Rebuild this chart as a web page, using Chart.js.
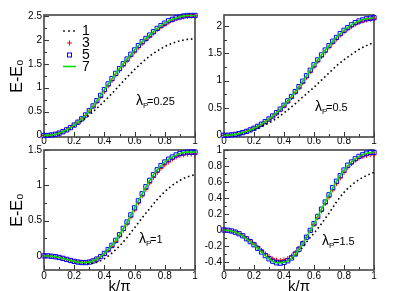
<!DOCTYPE html>
<html>
<head>
<meta charset="utf-8">
<script src="https://cdn.jsdelivr.net/npm/chart.js@4.4.0/dist/chart.umd.min.js"></script>
<style>
  body { margin: 0; background: #fff; }
  #wrap { position: relative; width: 411px; height: 291px; overflow: hidden; }
  #wrap canvas { position: absolute; }
</style>
</head>
<body>
<div id="wrap">
  <canvas id="c3" width="205" height="160" style="left:0;top:135px"></canvas>
  <canvas id="c4" width="206" height="160" style="left:205px;top:135px"></canvas>
  <canvas id="c1" width="205" height="160" style="left:0;top:0"></canvas>
  <canvas id="c2" width="206" height="160" style="left:205px;top:0"></canvas>
</div>
<script>
// k/pi grids: markers on the fine one, dotted + solid lines on the coarse one
var kFine = [0,0.025,0.05,0.075,0.1,0.125,0.15,0.175,0.2,0.225,0.25,0.275,0.3,0.325,0.35,0.375,0.4,0.425,0.45,0.475,0.5,0.525,0.55,0.575,0.6,0.625,0.65,0.675,0.7,0.725,0.75,0.775,0.8,0.825,0.85,0.875,0.9,0.925,0.95,0.975,1];
var kCoarse = [0,0.05,0.1,0.15,0.2,0.25,0.3,0.35,0.4,0.45,0.5,0.55,0.6,0.65,0.7,0.75,0.8,0.85,0.9,0.95,1];

var seriesLabels = ['1', '3', '5', '7'];
var xTicks = [0, 0.2, 0.4, 0.6, 0.8, 1];
var xMinor = [0.1, 0.3, 0.5, 0.7, 0.9];

// lambda_P = 0.25
var p1Dots = [0,0.012,0.05,0.11,0.2,0.3,0.43,0.57,0.72,0.88,1.05,1.22,1.38,1.53,1.66,1.77,1.86,1.93,1.98,2.01,2.02];
var p1Plus = [0,0.003,0.012,0.027,0.05,0.08,0.12,0.165,0.22,0.28,0.35,0.42,0.51,0.6,0.7,0.81,0.92,1.04,1.15,1.26,1.36,1.46,1.56,1.66,1.75,1.84,1.92,2.0,2.07,2.14,2.21,2.27,2.32,2.37,2.41,2.44,2.46,2.48,2.49,2.5,2.5];
var p1Squares = [0,0.003,0.012,0.027,0.05,0.08,0.12,0.165,0.22,0.28,0.35,0.43,0.52,0.62,0.73,0.84,0.96,1.08,1.19,1.3,1.4,1.5,1.6,1.7,1.79,1.88,1.96,2.03,2.1,2.17,2.24,2.3,2.35,2.4,2.43,2.46,2.48,2.5,2.51,2.51,2.51];
var p1Line = [0,0.012,0.05,0.12,0.22,0.35,0.52,0.73,0.96,1.19,1.4,1.6,1.79,1.96,2.1,2.24,2.35,2.43,2.48,2.51,2.51];
var p1YTicks = [0, 0.5, 1, 1.5, 2, 2.5];
var p1YMinor = [0.25, 0.75, 1.25, 1.75, 2.25];

// lambda_P = 0.5
var p2Dots = [0,0.006,0.025,0.055,0.1,0.16,0.23,0.31,0.41,0.52,0.64,0.76,0.88,1.01,1.14,1.27,1.38,1.48,1.57,1.64,1.7];
var p2Plus = [0,0.002,0.008,0.018,0.032,0.05,0.073,0.1,0.13,0.165,0.2,0.245,0.29,0.345,0.4,0.465,0.535,0.61,0.69,0.78,0.87,0.96,1.06,1.16,1.25,1.35,1.44,1.52,1.61,1.69,1.76,1.83,1.89,1.94,1.99,2.03,2.06,2.09,2.11,2.12,2.13];
var p2Squares = [0,0.002,0.008,0.018,0.032,0.05,0.073,0.1,0.13,0.165,0.205,0.25,0.3,0.355,0.415,0.48,0.55,0.63,0.71,0.8,0.89,0.99,1.09,1.19,1.29,1.38,1.47,1.56,1.64,1.72,1.79,1.86,1.92,1.97,2.02,2.06,2.09,2.11,2.13,2.14,2.15];
var p2Line = [0,0.008,0.032,0.073,0.13,0.205,0.3,0.415,0.55,0.71,0.89,1.09,1.29,1.47,1.64,1.79,1.92,2.02,2.09,2.13,2.15];
var p2YTicks = [0, 0.5, 1, 1.5, 2];
var p2YMinor = [0.25, 0.75, 1.25, 1.75];

// lambda_P = 1
var p3Dots = [0,-0.005,-0.022,-0.05,-0.08,-0.1,-0.11,-0.09,-0.04,0.04,0.14,0.26,0.4,0.54,0.67,0.8,0.91,1.0,1.07,1.12,1.15];
var p3Plus = [0,0,-0.005,-0.012,-0.022,-0.035,-0.05,-0.064,-0.076,-0.085,-0.09,-0.09,-0.083,-0.068,-0.044,-0.012,0.028,0.078,0.135,0.2,0.28,0.36,0.45,0.55,0.65,0.75,0.85,0.94,1.03,1.11,1.18,1.24,1.29,1.33,1.37,1.4,1.42,1.43,1.44,1.44,1.44];
var p3Squares = [0,0,-0.005,-0.012,-0.022,-0.035,-0.05,-0.065,-0.078,-0.088,-0.094,-0.095,-0.088,-0.072,-0.045,-0.01,0.035,0.09,0.15,0.22,0.3,0.39,0.48,0.58,0.68,0.78,0.88,0.98,1.07,1.15,1.22,1.28,1.33,1.37,1.4,1.43,1.45,1.46,1.47,1.47,1.47];
var p3Line = [0,-0.005,-0.022,-0.05,-0.078,-0.094,-0.088,-0.045,0.035,0.15,0.3,0.48,0.68,0.88,1.07,1.22,1.33,1.4,1.45,1.47,1.47];
var p3YTicks = [0, 0.5, 1, 1.5];
var p3YMinor = [0.25, 0.75, 1.25];

// lambda_P = 1.5
var p4Dots = [0,-0.012,-0.047,-0.11,-0.185,-0.27,-0.35,-0.4,-0.4,-0.36,-0.27,-0.15,-0.04,0.08,0.21,0.35,0.47,0.56,0.63,0.68,0.72];
var p4Plus = [0,-0.003,-0.012,-0.026,-0.045,-0.07,-0.105,-0.138,-0.175,-0.215,-0.255,-0.295,-0.33,-0.36,-0.375,-0.38,-0.372,-0.355,-0.325,-0.28,-0.225,-0.16,-0.09,-0.01,0.07,0.15,0.24,0.33,0.41,0.5,0.58,0.65,0.72,0.78,0.83,0.87,0.9,0.92,0.93,0.94,0.94];
var p4Squares = [0,-0.003,-0.012,-0.027,-0.047,-0.072,-0.11,-0.145,-0.185,-0.23,-0.275,-0.32,-0.36,-0.39,-0.41,-0.415,-0.405,-0.385,-0.35,-0.3,-0.24,-0.17,-0.09,-0.005,0.08,0.17,0.26,0.35,0.44,0.53,0.61,0.68,0.75,0.81,0.85,0.89,0.92,0.94,0.96,0.97,0.97];
var p4Line = [0,-0.012,-0.047,-0.11,-0.185,-0.275,-0.36,-0.41,-0.405,-0.35,-0.24,-0.09,0.08,0.26,0.44,0.61,0.75,0.85,0.92,0.96,0.97];
var p4YTicks = [-0.4, -0.2, 0, 0.2, 0.4, 0.6, 0.8, 1];
var p4YMinor = [-0.3, -0.1, 0.1, 0.3, 0.5, 0.7, 0.9];

var FONT = '"Liberation Sans", Arial, sans-serif';

var panels = [
  { id: 'c1', dots: p1Dots, plus: p1Plus, squares: p1Squares, line: p1Line,
    yMin: -0.03, yMax: 2.52, yTicks: p1YTicks, yMinor: p1YMinor, lam: '=0.25', lamX: 136, lamY: 101,
    yTitle: true, xTitle: false, legend: true, yw: 44, pr: 10, pt: 15, xh: 23, xpad: -2 },
  { id: 'c2', dots: p2Dots, plus: p2Plus, squares: p2Squares, line: p2Line,
    yMin: -0.03, yMax: 2.2, yTicks: p2YTicks, yMinor: p2YMinor, lam: '=0.5', lamX: 110, lamY: 107,
    yTitle: false, xTitle: false, legend: false, yw: 19, pr: 37, pt: 15, xh: 23, xpad: -2 },
  { id: 'c3', dots: p3Dots, plus: p3Plus, squares: p3Squares, line: p3Line,
    yMin: -0.2, yMax: 1.5, yTicks: p3YTicks, yMinor: p3YMinor, lam: '=1', lamX: 139, lamY: 104,
    yTitle: true, xTitle: true, legend: false, yw: 44, pr: 10, pt: 15, xh: 25, xpad: 0 },
  { id: 'c4', dots: p4Dots, plus: p4Plus, squares: p4Squares, line: p4Line,
    yMin: -0.5, yMax: 1, yTicks: p4YTicks, yMinor: p4YMinor, lam: '=1.5', lamX: 117, lamY: 106,
    yTitle: false, xTitle: true, legend: false, yw: 19, pr: 37, pt: 15, xh: 25, xpad: 0 }
];

function xy(ks, vs) {
  return ks.map(function (k, i) { return { x: k, y: vs[i] }; });
}

// frame, inward ticks, legend and the lambda label
function makeDeco(p) {
  return {
    id: 'deco-' + p.id,
    beforeDatasetsDraw: function (chart) {
      var a = chart.chartArea, ctx = chart.ctx, xs = chart.scales.x, ys = chart.scales.y;
      ctx.save();
      ctx.strokeStyle = '#333';
      ctx.lineWidth = 1;
      ctx.beginPath();
      function tx(v, len) {
        var px = Math.round(xs.getPixelForValue(v)) + 0.5;
        ctx.moveTo(px, a.bottom); ctx.lineTo(px, a.bottom - len);
      }
      function ty(v, len) {
        var py = Math.round(ys.getPixelForValue(v)) + 0.5;
        ctx.moveTo(a.left, py); ctx.lineTo(a.left + len, py);
      }
      xTicks.forEach(function (v) { tx(v, 5); });
      xMinor.forEach(function (v) { tx(v, 3); });
      p.yTicks.forEach(function (v) { ty(v, 5); });
      p.yMinor.forEach(function (v) { ty(v, 3); });
      ctx.stroke();
      ctx.strokeStyle = '#444';
      ctx.lineWidth = 1.6;
      ctx.strokeRect(a.left, a.top, a.right - a.left, a.bottom - a.top);
      ctx.restore();
    },
    afterDatasetsDraw: function (chart) {
      var ctx = chart.ctx;
      ctx.save();
      ctx.fillStyle = '#000';
      ctx.textBaseline = 'middle';
      // lambda_P label
      ctx.font = '14px ' + FONT;
      ctx.fillText('λ', p.lamX, p.lamY);
      var w = ctx.measureText('λ').width;
      ctx.font = '8px ' + FONT;
      ctx.fillText('P', p.lamX + w, p.lamY + 5);
      ctx.font = '11px ' + FONT;
      ctx.fillText(p.lam, p.lamX + w + 4, p.lamY + 1);

      if (p.legend) {
        var rows = [31, 43, 55, 66.5];
        var ds = chart.data.datasets;
        // 1: dotted
        ctx.fillStyle = '#000';
        [64, 69, 74].forEach(function (x) { ctx.fillRect(x - 0.8, rows[0] - 0.8, 1.6, 1.6); });
        // 3: red plus
        ctx.strokeStyle = ds[1].borderColor; ctx.lineWidth = 1;
        ctx.beginPath();
        ctx.moveTo(67, rows[1]); ctx.lineTo(72, rows[1]);
        ctx.moveTo(69.5, rows[1] - 2.5); ctx.lineTo(69.5, rows[1] + 2.5);
        ctx.stroke();
        // 5: blue square
        ctx.strokeStyle = ds[2].borderColor;
        ctx.strokeRect(67.5, rows[2] - 2, 4, 4);
        // 7: green line
        ctx.strokeStyle = ds[3].borderColor; ctx.lineWidth = 1.6;
        ctx.beginPath(); ctx.moveTo(63, rows[3]); ctx.lineTo(76, rows[3]); ctx.stroke();
        ctx.fillStyle = '#000';
        ctx.font = '14px ' + FONT;
        ds.forEach(function (d, i) { ctx.fillText(d.label, 82, rows[i] + 0.5); });
      }
      ctx.restore();
    }
  };
}

function makeChart(p) {
  var ctx = document.getElementById(p.id).getContext('2d');
  return new Chart(ctx, {
    type: 'scatter',
    data: {
      datasets: [
        { label: seriesLabels[0], data: xy(kCoarse, p.dots), showLine: true, borderColor: '#000',
          borderWidth: 1.6, borderDash: [1.6, 2.8], pointRadius: 0, cubicInterpolationMode: 'monotone', order: 1 },
        { label: seriesLabels[1], data: xy(kFine, p.plus), showLine: false, pointStyle: 'cross',
          pointRadius: 2.4, borderColor: '#ff0000', borderWidth: 1, clip: 4, order: 3 },
        { label: seriesLabels[2], data: xy(kFine, p.squares), showLine: false, pointStyle: 'rect',
          pointRadius: 3, borderColor: '#0000ff', backgroundColor: 'rgba(0,0,0,0)', borderWidth: 1, clip: 4, order: 2 },
        { label: seriesLabels[3], data: xy(kCoarse, p.line), showLine: true, borderColor: '#00e000',
          borderWidth: 1.6, pointRadius: 0, cubicInterpolationMode: 'monotone', order: 0 }
      ]
    },
    options: {
      responsive: false,
      animation: false,
      devicePixelRatio: 1,
      layout: { padding: { top: p.pt, right: p.pr, left: 0, bottom: 0 } },
      plugins: { legend: { display: false }, tooltip: { enabled: false } },
      scales: {
        x: {
          type: 'linear', min: 0, max: 1,
          grid: { display: false, drawTicks: false }, border: { display: false },
          afterBuildTicks: function (s) { s.ticks = xTicks.map(function (v) { return { value: v }; }); },
          afterFit: function (s) { s.height = p.xh; },
          ticks: { font: { size: 10, family: FONT }, color: '#000', padding: p.xpad, maxRotation: 0,
            callback: function (v) { return String(v); } },
          title: { display: p.xTitle, text: 'k/π', color: '#000', font: { size: 15, family: FONT },
            padding: { top: 0, bottom: -1 } }
        },
        y: {
          type: 'linear', min: p.yMin, max: p.yMax,
          grid: { display: false, drawTicks: false }, border: { display: false },
          afterBuildTicks: function (s) { s.ticks = p.yTicks.map(function (v) { return { value: v }; }); },
          afterFit: function (s) { s.width = p.yw; },
          ticks: { font: { size: 10, family: FONT }, color: '#000', padding: 2,
            callback: function (v) { return String(v); } },
          title: { display: p.yTitle, text: 'E-E₀', color: '#000', font: { size: 16, family: FONT },
            padding: { top: 8, bottom: 0 } }
        }
      }
    },
    plugins: [makeDeco(p)]
  });
}

panels.forEach(makeChart);
</script>
</body>
</html>
